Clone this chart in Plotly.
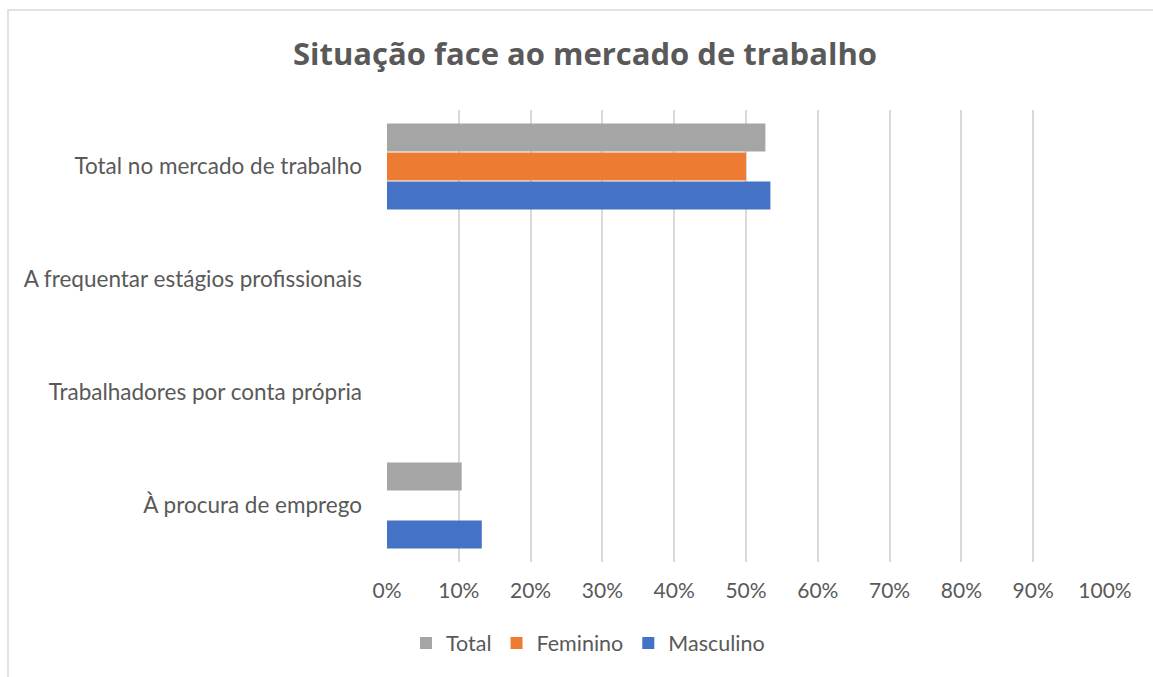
import plotly.graph_objects as go

# ── Data ──────────────────────────────────────────────────────────────────────
categories = [
    "Total no mercado de trabalho",
    "A frequentar estágios profissionais",
    "Trabalhadores por conta própria",
    "À procura de emprego",
]
total = [0.527, 0.0, 0.0, 0.104]
feminino = [0.500, 0.0, 0.0, 0.0]
masculino = [0.534, 0.0, 0.0, 0.132]
x_ticks = [i / 10 for i in range(11)]

W, H = 1153, 677
L, R, T, B = 387, 48, 110, 115
PW, PH = W - L - R, H - T - B

FONT = "Lato, 'Open Sans', sans-serif"
TXT = "#595959"


def px_x(p):
    return (p - L) / PW


def px_y(p):
    return (H - B - p) / PH


fig = go.Figure()
for name, vals, color in [
    ("Total", total, "#A5A5A5"),
    ("Feminino", feminino, "#EE7B32"),
    ("Masculino", masculino, "#4472C4"),
]:
    fig.add_trace(go.Bar(
        y=categories, x=vals, name=name, orientation="h",
        marker=dict(color=color, line=dict(width=0)),
    ))

fig.update_layout(
    width=W, height=H,
    margin=dict(l=L, r=R, t=T, b=B),
    paper_bgcolor="white", plot_bgcolor="white",
    barmode="group", bargap=0.23, bargroupgap=0.04,
    font=dict(family=FONT, color=TXT, size=22.5),
    title=dict(
        text="<b>Situação face ao mercado de trabalho</b>",
        x=px_x(585), xref="paper", xanchor="center",
        y=1 - 54 / H, yanchor="middle",
        font=dict(size=31, color=TXT, family="'Open Sans', sans-serif"),
    ),
    legend=dict(
        orientation="h", x=px_x(588), xanchor="center",
        y=px_y(643), yanchor="middle",
        font=dict(size=21.5, color=TXT), traceorder="normal",
        itemwidth=30,
    ),
    shapes=[dict(
        type="rect", xref="paper", yref="paper",
        x0=px_x(8), x1=px_x(1200), y0=px_y(720), y1=px_y(10),
        line=dict(color="#D9D9D9", width=1.5), layer="below",
    )],
)

fig.update_xaxes(
    range=[0, 1], tickvals=x_ticks, tickformat=".0%",
    tickfont=dict(size=21),
    showgrid=True, gridcolor="#D9D9D9", gridwidth=2,
    zeroline=False, showline=False, ticks="",
    ticklabelstandoff=14, fixedrange=True,
)
fig.update_yaxes(
    autorange="reversed", showgrid=False, zeroline=False,
    showline=False, ticks="", ticklabelstandoff=24,
)

# browser default body margin would shift the figure by 8px
fig.write_html("out.html", config={"displayModeBar": False},
               post_script="document.body.style.margin='0';")
